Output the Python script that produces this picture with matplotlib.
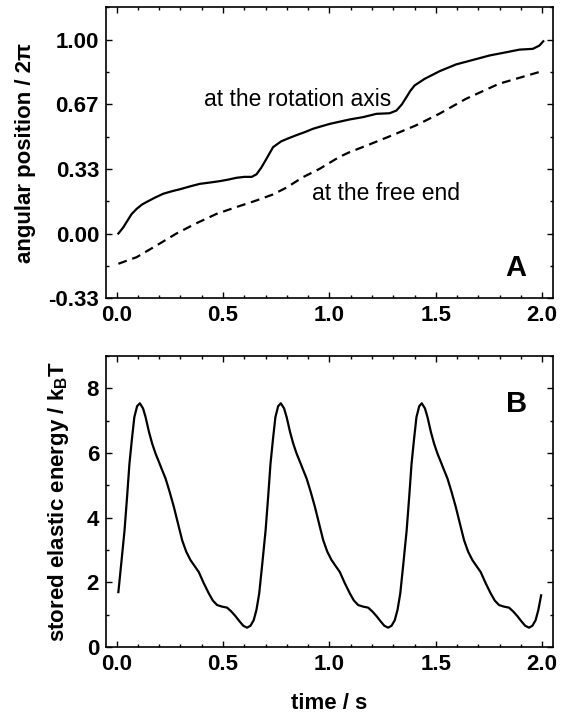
import numpy as np
import matplotlib
matplotlib.use("Agg")
import matplotlib.pyplot as plt
from matplotlib.ticker import MultipleLocator, FixedLocator

plt.rcParams["font.family"] = ["Liberation Sans", "DejaVu Sans"]
plt.rcParams["mathtext.fontset"] = "custom"
plt.rcParams["mathtext.rm"] = "Liberation Sans:bold"
plt.rcParams["mathtext.bf"] = "Liberation Sans:bold"

# panel A: angular position (units of 2*pi)
t_axis = [0.008, 0.030, 0.050, 0.070, 0.094, 0.120, 0.145, 0.180, 0.219, 0.260,
          0.297, 0.345, 0.391, 0.440, 0.485, 0.525, 0.562, 0.600, 0.635, 0.657,
          0.680, 0.704, 0.735, 0.773, 0.810, 0.845, 0.885, 0.923, 0.960, 1.001,
          1.050, 1.095, 1.158, 1.221, 1.283, 1.315, 1.340, 1.362, 1.380, 1.400,
          1.447, 1.518, 1.596, 1.675, 1.753, 1.815, 1.893, 1.956, 1.987, 2.005]
pos_axis = [0.000, 0.030, 0.065, 0.100, 0.127, 0.150, 0.165, 0.185, 0.205, 0.218,
            0.228, 0.243, 0.256, 0.263, 0.270, 0.278, 0.287, 0.292, 0.292, 0.305,
            0.340, 0.385, 0.445, 0.475, 0.492, 0.507, 0.523, 0.540, 0.552, 0.565,
            0.577, 0.588, 0.600, 0.617, 0.620, 0.634, 0.665, 0.703, 0.735, 0.763,
            0.797, 0.837, 0.872, 0.895, 0.918, 0.931, 0.948, 0.952, 0.969, 0.991]

t_free = [0.008, 0.094, 0.187, 0.281, 0.375, 0.469, 0.562, 0.656, 0.734, 0.797,
          0.875, 0.953, 1.047, 1.094, 1.190, 1.281, 1.406, 1.516, 1.641, 1.797, 2.000]
pos_free = [-0.156, -0.122, -0.062, 0.000, 0.053, 0.101, 0.136, 0.170, 0.201, 0.236,
            0.290, 0.333, 0.395, 0.419, 0.460, 0.500, 0.557, 0.617, 0.694, 0.772, 0.837]

# panel B: stored elastic energy (kBT)
t_energy = [0.008, 0.021, 0.037, 0.049, 0.060, 0.072, 0.083, 0.096, 0.109,
            0.124, 0.136, 0.152, 0.167, 0.183, 0.199, 0.214, 0.230, 0.249, 0.269,
            0.289, 0.308, 0.327, 0.347, 0.367, 0.386, 0.409, 0.433, 0.452, 0.472,
            0.496, 0.519, 0.539, 0.558, 0.577, 0.595, 0.613, 0.629, 0.644, 0.657,
            0.670, 0.684, 0.700, 0.712, 0.723, 0.735, 0.746, 0.759, 0.7715,
            0.787, 0.799, 0.815, 0.830, 0.846, 0.862, 0.877, 0.893, 0.912, 0.932,
            0.952, 0.971, 0.990, 1.010, 1.030, 1.049, 1.072, 1.096, 1.115, 1.135,
            1.159, 1.182, 1.202, 1.221, 1.240, 1.258, 1.276, 1.292, 1.307, 1.320,
            1.333, 1.347, 1.363, 1.375, 1.386, 1.398, 1.409, 1.422, 1.434,
            1.449, 1.461, 1.477, 1.492, 1.508, 1.524, 1.539, 1.555, 1.574, 1.594,
            1.614, 1.633, 1.652, 1.672, 1.692, 1.711, 1.734, 1.758, 1.777, 1.797,
            1.821, 1.844, 1.864, 1.883, 1.902, 1.920, 1.938, 1.954, 1.969, 1.982,
            1.995]
energy = [1.70, 2.55, 3.61, 4.65, 5.67, 6.45, 7.11, 7.45, 7.54,
          7.38, 7.11, 6.65, 6.29, 5.98, 5.72, 5.47, 5.21, 4.80, 4.33,
          3.80, 3.30, 2.95, 2.69, 2.50, 2.32, 1.98, 1.66, 1.44, 1.30,
          1.25, 1.22, 1.10, 0.96, 0.80, 0.66, 0.60, 0.66, 0.83, 1.15,
          1.66, 2.55, 3.61, 4.65, 5.67, 6.45, 7.11, 7.45, 7.54,
          7.38, 7.11, 6.65, 6.29, 5.98, 5.72, 5.47, 5.21, 4.80, 4.33,
          3.80, 3.30, 2.95, 2.69, 2.50, 2.32, 1.98, 1.66, 1.44, 1.30,
          1.25, 1.22, 1.10, 0.96, 0.80, 0.66, 0.60, 0.66, 0.83, 1.15,
          1.66, 2.55, 3.61, 4.65, 5.67, 6.45, 7.11, 7.45, 7.54,
          7.38, 7.11, 6.65, 6.29, 5.98, 5.72, 5.47, 5.21, 4.80, 4.33,
          3.80, 3.30, 2.95, 2.69, 2.50, 2.32, 1.98, 1.66, 1.44, 1.30,
          1.25, 1.22, 1.10, 0.96, 0.80, 0.66, 0.60, 0.66, 0.83, 1.15,
          1.60]

ytick_a = [-1 / 3, 0.0, 1 / 3, 2 / 3, 1.0]
ytick_a_labels = ["-0.33", "0.00", "0.33", "0.67", "1.00"]
xticks = [0.0, 0.5, 1.0, 1.5, 2.0]


def style_axes(ax):
    for sp in ax.spines.values():
        sp.set_linewidth(1.2)
    ax.tick_params(which="both", direction="in", top=True, right=True, width=1.0)
    ax.tick_params(which="major", length=4.5, labelsize=16, pad=5)
    ax.tick_params(which="minor", length=2.5)
    ax.set_xlim(-0.05, 2.05)
    ax.xaxis.set_major_locator(FixedLocator(xticks))
    ax.xaxis.set_minor_locator(MultipleLocator(0.1))
    ax.set_xticklabels([f"{v:.1f}" for v in xticks], fontweight="bold")


fig = plt.figure(figsize=(5.67, 7.15), dpi=100)
ax1 = fig.add_axes([0.187, 0.583, 0.788, 0.407])
ax2 = fig.add_axes([0.187, 0.095, 0.788, 0.407])

ax1.plot(t_axis, pos_axis, color="black", lw=1.6)
ax1.plot(t_free, pos_free, color="black", lw=1.6, dashes=(4.0, 2.6))
ax1.set_ylim(-1 / 3, 1.167)
ax1.yaxis.set_major_locator(FixedLocator(ytick_a))
ax1.yaxis.set_minor_locator(MultipleLocator(1 / 6))
style_axes(ax1)
ax1.set_yticklabels(ytick_a_labels, fontweight="bold")
ax1.set_ylabel("angular position / 2π", fontsize=16, fontweight="bold", labelpad=9)
ax1.text(0.41, 0.69, "at the rotation axis", fontsize=16.5, va="center", ha="left")
ax1.text(0.92, 0.205, "at the free end", fontsize=16.5, va="center", ha="left")
ax1.text(0.917, 0.103, "A", transform=ax1.transAxes, fontsize=21,
         fontweight="bold", ha="center", va="center")

ax2.plot(t_energy, energy, color="black", lw=1.6)
ax2.set_ylim(0, 9)
ax2.yaxis.set_major_locator(MultipleLocator(2))
ax2.yaxis.set_minor_locator(MultipleLocator(1))
style_axes(ax2)
ax2.set_yticklabels([f"{int(v)}" for v in ax2.get_yticks()], fontweight="bold")
ax2.set_ylabel(r"stored elastic energy / k$_\mathrm{B}$T", fontsize=16,
               fontweight="bold", labelpad=11)
ax2.set_xlabel("time / s", fontsize=16, fontweight="bold", labelpad=13)
ax2.text(0.919, 0.835, "B", transform=ax2.transAxes, fontsize=21,
         fontweight="bold", ha="center", va="center")

fig.savefig("out.png", dpi=100)
